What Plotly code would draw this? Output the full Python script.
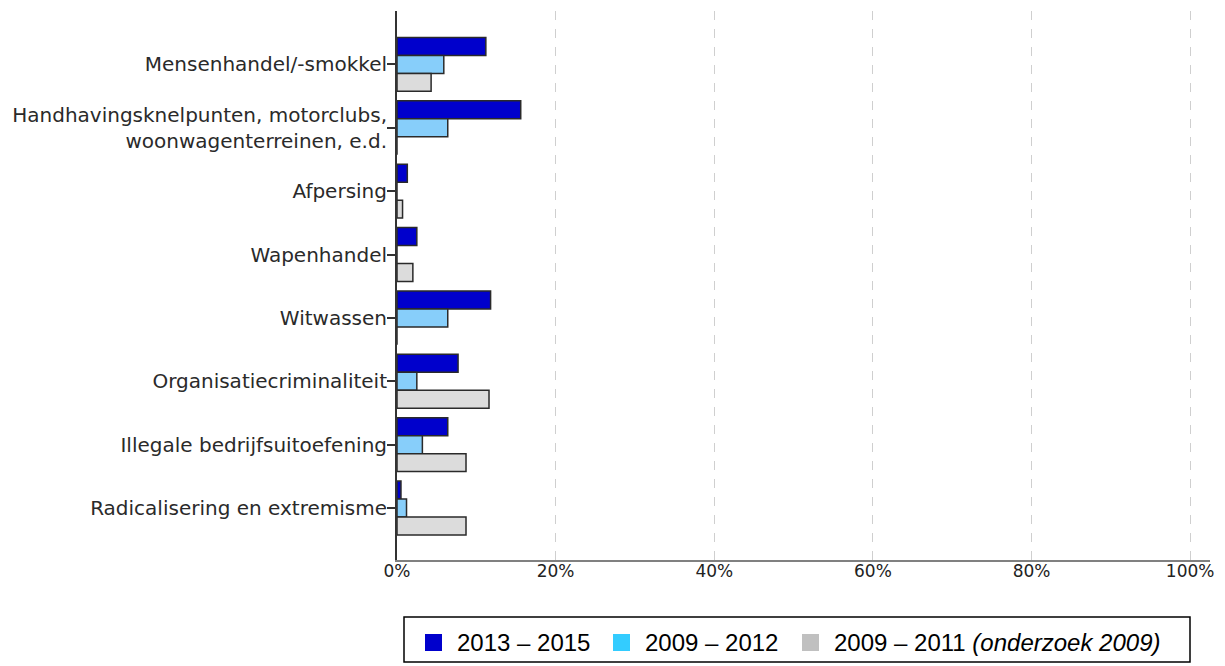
import plotly.graph_objects as go

categories = [
    "Mensenhandel/-smokkel",
    "Handhavingsknelpunten, motorclubs,<br>woonwagenterreinen, e.d.",
    "Afpersing",
    "Wapenhandel",
    "Witwassen",
    "Organisatiecriminaliteit",
    "Illegale bedrijfsuitoefening",
    "Radicalisering en extremisme",
]
series_names = ["2013 – 2015", "2009 – 2012", "2009 – 2011 <i>(onderzoek 2009)</i>"]
v_2013_2015 = [11.2, 15.6, 1.3, 2.5, 11.8, 7.7, 6.4, 0.5]
v_2009_2012 = [5.9, 6.4, 0.0, 0.0, 6.4, 2.5, 3.2, 1.2]
v_2009_2011 = [4.3, 0.0, 0.7, 2.0, 0.0, 11.6, 8.7, 8.7]
bar_colors = ["#0000cc", "#87cefa", "#dcdcdc"]
legend_colors = ["#0000cc", "#33ccff", "#c0c0c0"]
tick_vals = [0, 20, 40, 60, 80, 100]
tick_text = ["0%", "20%", "40%", "60%", "80%", "100%"]

fig = go.Figure()
for name, vals, col in zip(series_names, [v_2013_2015, v_2009_2012, v_2009_2011], bar_colors):
    fig.add_trace(go.Bar(
        y=categories, x=vals, orientation="h", name=name,
        marker=dict(color=col, line=dict(color="#2a2a2a", width=1.5)),
        showlegend=False,
    ))

W, H = 1225, 666
L, R, T, B = 397, 15, 11, 106
fig.update_layout(
    width=W, height=H,
    margin=dict(l=L, r=R, t=T, b=B),
    paper_bgcolor="white", plot_bgcolor="white",
    barmode="group", bargap=0.15, bargroupgap=0,
    font=dict(family="DejaVu Sans", size=19, color="#222222"),
)
fig.update_xaxes(
    range=[0, 102.5], tickvals=tick_vals, ticktext=tick_text,
    showgrid=True, gridcolor="#cfcfcf", griddash="dash", gridwidth=1,
    showline=True, linecolor="#808080", linewidth=2,
    ticks="", zeroline=False, ticklabelstandoff=-5,
    tickfont=dict(family="DejaVu Sans", size=17, color="#222222"),
)
fig.update_yaxes(
    type="category", categoryorder="array", categoryarray=categories,
    range=[7.82, -0.843],
    showline=True, linecolor="#333333", linewidth=2,
    ticks="outside", ticklen=8, tickcolor="#333333", tickwidth=1.5,
    showgrid=False, zeroline=False, ticklabelstandoff=-4,
    tickfont=dict(family="DejaVu Sans", size=20, color="#2a2a2a"),
)

# Legend box drawn manually to match the reference styling
pw = W - L - R
ph = H - T - B
def ux(x):
    return (x - L) / pw
def uy(y):
    return (H - B - y) / ph

shapes = [dict(type="rect", xref="paper", yref="paper",
               x0=ux(404), x1=ux(1190), y0=uy(662), y1=uy(617),
               line=dict(color="black", width=1.5), fillcolor="white")]
sq_x = [425, 613, 802]
txt_x = [455, 643, 832]
annotations = []
for sx, tx, col, name in zip(sq_x, txt_x, legend_colors, series_names):
    shapes.append(dict(type="rect", xref="paper", yref="paper",
                       x0=ux(sx), x1=ux(sx + 17), y0=uy(651), y1=uy(634),
                       line=dict(width=0), fillcolor=col))
    annotations.append(dict(xref="paper", yref="paper", x=ux(tx), y=uy(642),
                            xanchor="left", yanchor="middle", showarrow=False,
                            text=name, font=dict(family="Liberation Sans", size=24, color="black")))
fig.update_layout(shapes=shapes, annotations=annotations)

fig.write_html("out.html", config={"displayModeBar": False},
               post_script="document.body.style.margin='0';")
